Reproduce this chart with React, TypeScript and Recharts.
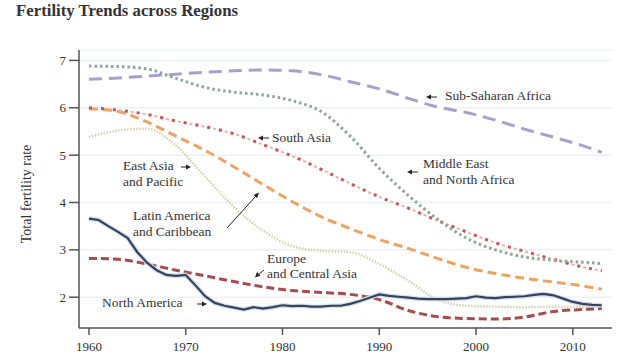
import { LineChart, Line, XAxis, YAxis, CartesianGrid } from "recharts";

// sample years for the smooth regional curves
const years = [
  1960, 1963, 1966, 1969, 1972, 1975, 1978, 1981, 1984, 1987, 1990, 1993,
  1996, 1999, 2002, 2005, 2008, 2011, 2013,
];

const subSaharan = [
  6.6, 6.63, 6.67, 6.71, 6.75, 6.78, 6.8, 6.78, 6.7, 6.55, 6.4, 6.2, 6.02,
  5.9, 5.74, 5.55, 5.38, 5.2, 5.06,
];
const middleEast = [
  6.88, 6.87, 6.82, 6.62, 6.43, 6.33, 6.27, 6.15, 5.92, 5.4, 4.72, 4.15, 3.65,
  3.25, 3.0, 2.85, 2.78, 2.74, 2.71,
];
const southAsia = [
  6.0, 5.95, 5.86, 5.72, 5.6, 5.45, 5.22, 4.98, 4.7, 4.4, 4.12, 3.88, 3.62,
  3.38, 3.15, 2.97, 2.8, 2.64, 2.56,
];
const latinAmerica = [
  5.98, 5.92, 5.7, 5.4, 5.1, 4.75, 4.38, 4.02, 3.7, 3.45, 3.22, 3.03, 2.82,
  2.63, 2.5, 2.4, 2.32, 2.24, 2.17,
];
const eastAsia = [
  5.38, 5.52, 5.56, 5.2, 4.55, 3.9, 3.4, 3.08, 2.98, 2.95, 2.7, 2.35, 1.95,
  1.82, 1.8, 1.79, 1.8, 1.8, 1.8,
];
const europe = [
  2.82, 2.8, 2.7, 2.57, 2.45, 2.33, 2.22, 2.14, 2.1, 2.06, 1.95, 1.72, 1.59,
  1.55, 1.54, 1.58, 1.7, 1.74, 1.76,
];

// North America is read year by year (it wiggles)
const naYears = [
  1960, 1961, 1962, 1963, 1964, 1965, 1966, 1967, 1968, 1969, 1970, 1971,
  1972, 1973, 1974, 1975, 1976, 1977, 1978, 1979, 1980, 1981, 1982, 1983,
  1984, 1985, 1986, 1987, 1988, 1989, 1990, 1991, 1992, 1993, 1994, 1995,
  1996, 1997, 1998, 1999, 2000, 2001, 2002, 2003, 2004, 2005, 2006, 2007,
  2008, 2009, 2010, 2011, 2012, 2013,
];
const northAmerica = [
  3.66, 3.63, 3.5, 3.38, 3.25, 2.95, 2.73, 2.57, 2.47, 2.45, 2.47, 2.25, 2.02,
  1.88, 1.82, 1.78, 1.74, 1.79, 1.76, 1.79, 1.83, 1.81, 1.82, 1.8, 1.8, 1.82,
  1.82, 1.86, 1.92, 1.99, 2.06, 2.03, 2.01, 1.99, 1.97, 1.96, 1.96, 1.96,
  1.97, 1.98, 2.02, 1.99, 1.98, 2.0, 2.01, 2.02, 2.05, 2.07, 2.04, 1.97, 1.9,
  1.86, 1.84, 1.83,
];

const xTicks = [1960, 1970, 1980, 1990, 2000, 2010];
const yTicks = [2, 3, 4, 5, 6, 7];

const toRows = (xs: number[], vs: number[]) =>
  xs.map((year, i) => ({ year, value: vs[i] }));

const serif = "'Liberation Serif', 'Times New Roman', serif";
const ink = "#333";

const Arrow = ({ d, head }: { d: string; head: string }) => (
  <g>
    <path d={d} stroke="#222" strokeWidth={1} fill="none" />
    <path d={head} fill="#222" />
  </g>
);

export default function App() {
  return (
    <div style={{ position: "absolute", left: 0, top: 0, width: 640, height: 362 }}>
      <LineChart
        width={640}
        height={362}
        margin={{ top: 50, right: 28, left: 0, bottom: 0 }}
      >
        <CartesianGrid vertical={false} stroke="#edf1f6" strokeWidth={1.5} />
        <XAxis
          dataKey="year"
          type="number"
          domain={[1958.97, 2014.05]}
          ticks={xTicks}
          allowDataOverflow
          height={34}
          tickSize={7}
          tickMargin={7}
          stroke="#555"
          strokeWidth={1.5}
          tick={{ fill: ink, fontFamily: serif, fontSize: 13 }}
        />
        <YAxis
          type="number"
          domain={[1.35, 7.22]}
          ticks={yTicks}
          allowDataOverflow
          width={79}
          tickSize={10}
          tickMargin={3}
          stroke="#555"
          strokeWidth={1.5}
          tick={{ fill: ink, fontFamily: serif, fontSize: 13 }}
        />
        <Line
          data={toRows(years, subSaharan)}
          dataKey="value"
          type="monotone"
          stroke="#a99fcf"
          strokeWidth={3}
          strokeDasharray="13 7"
          dot={false}
          isAnimationActive={false}
        />
        <Line
          data={toRows(years, eastAsia)}
          dataKey="value"
          type="monotone"
          stroke="#d6d3aa"
          strokeWidth={2.5}
          strokeDasharray="1.5 1.5"
          dot={false}
          isAnimationActive={false}
        />
        <Line
          data={toRows(years, latinAmerica)}
          dataKey="value"
          type="monotone"
          stroke="#eea35f"
          strokeWidth={3}
          strokeDasharray="9 5"
          dot={false}
          isAnimationActive={false}
        />
        <Line
          data={toRows(years, southAsia)}
          dataKey="value"
          type="monotone"
          stroke="#eab0b0"
          strokeWidth={2}
          strokeDasharray="3 3"
          dot={false}
          isAnimationActive={false}
        />
        <Line
          data={toRows(years, southAsia)}
          dataKey="value"
          type="monotone"
          stroke="#c9555a"
          strokeWidth={3}
          strokeDasharray="3 9"
          dot={false}
          isAnimationActive={false}
        />
        <Line
          data={toRows(years, middleEast)}
          dataKey="value"
          type="monotone"
          stroke="#8ea596"
          strokeWidth={3}
          strokeDasharray="2.5 3"
          dot={false}
          isAnimationActive={false}
        />
        <Line
          data={toRows(years, europe)}
          dataKey="value"
          type="monotone"
          stroke="#a54d4c"
          strokeWidth={3}
          strokeDasharray="8 4"
          dot={false}
          isAnimationActive={false}
        />
        <Line
          data={toRows(naYears, northAmerica)}
          dataKey="value"
          type="linear"
          stroke="#d3deee"
          strokeWidth={4.5}
          dot={false}
          isAnimationActive={false}
        />
        <Line
          data={toRows(naYears, northAmerica)}
          dataKey="value"
          type="linear"
          stroke="#34435f"
          strokeWidth={2.2}
          dot={false}
          isAnimationActive={false}
        />
      </LineChart>

      <svg
        width={640}
        height={362}
        style={{ position: "absolute", left: 0, top: 0, pointerEvents: "none" }}
        fontFamily={serif}
        fill={ink}
      >
        <text x={16} y={16} fontSize={16.8} fontWeight="bold">
          Fertility Trends across Regions
        </text>
        <text
          transform="translate(31,194) rotate(-90)"
          textAnchor="middle"
          fontSize={14}
        >
          Total fertility rate
        </text>

        <g fontSize={13.5}>
          <text x={445} y={100}>Sub-Saharan Africa</text>
          <text x={272} y={142}>South Asia</text>
          <text x={423} y={168}>Middle East</text>
          <text x={423} y={184}>and North Africa</text>
          <text x={123} y={170}>East Asia</text>
          <text x={123} y={186}>and Pacific</text>
          <text x={133} y={220}>Latin America</text>
          <text x={133} y={236}>and Caribbean</text>
          <text x={267} y={263}>Europe</text>
          <text x={267} y={278}>and Central Asia</text>
          <text x={102} y={307}>North America</text>
        </g>

        <Arrow d="M430 97 L437 97" head="M426 97 L431 94.5 L431 99.5 Z" />
        <Arrow d="M262 138 L269 138" head="M258 138 L263 135.5 L263 140.5 Z" />
        <Arrow d="M411 172 L418 172" head="M407 172 L412 169.5 L412 174.5 Z" />
        <Arrow d="M181 167 L187 167" head="M191 167 L186 164.5 L186 169.5 Z" />
        <Arrow d="M197 304 L203 304" head="M207 304 L202 301.5 L202 306.5 Z" />
        <Arrow d="M227 228 L256 196" head="M259 192.5 L253.5 195 L257.2 198.3 Z" />
        <Arrow d="M264 270 L258.5 274.5" head="M255 277.5 L257 272 L260.3 275.8 Z" />
      </svg>
    </div>
  );
}
